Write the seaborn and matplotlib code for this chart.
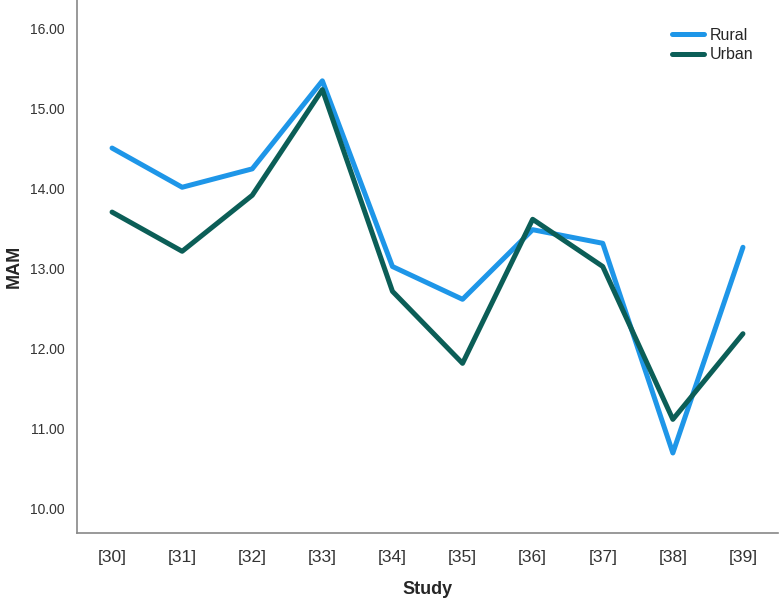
import matplotlib
matplotlib.use("Agg")
import matplotlib.pyplot as plt
import seaborn as sns
import pandas as pd

studies = ["[30]", "[31]", "[32]", "[33]", "[34]", "[35]", "[36]", "[37]", "[38]", "[39]"]
rural = [14.51, 14.02, 14.25, 15.35, 13.03, 12.62, 13.49, 13.32, 10.70, 13.27]
urban = [13.71, 13.22, 13.92, 15.24, 12.72, 11.82, 13.62, 13.03, 11.12, 12.19]

df = pd.DataFrame({
    "Study": studies * 2,
    "MAM": rural + urban,
    "Group": ["Rural"] * len(studies) + ["Urban"] * len(studies),
})

sns.set_style("white")
plt.rcParams["font.family"] = ["Liberation Sans", "DejaVu Sans"]

fig = plt.figure(figsize=(7.79, 6.06), dpi=100)
ax = fig.add_axes([77 / 779, 73 / 606, 701 / 779, 533 / 606])
sns.lineplot(data=df, x="Study", y="MAM", hue="Group", sort=False,
             palette={"Rural": "#1e96e8", "Urban": "#0b5e57"},
             linewidth=3.6, ax=ax)

ax.set_xlim(-0.5, 9.5)
ax.set_ylim(9.7, 16.36)
ax.set_yticks([10, 11, 12, 13, 14, 15, 16])
ax.set_yticklabels([f"{v:.2f}" for v in [10, 11, 12, 13, 14, 15, 16]], fontsize=10, color="#333333")
ax.tick_params(axis="x", labelsize=12.5, colors="#333333", pad=12)
ax.tick_params(axis="y", pad=9)
ax.tick_params(length=0)
for s in ["top", "right"]:
    ax.spines[s].set_visible(False)
for s in ["left", "bottom"]:
    ax.spines[s].set_color("#888888")
    ax.spines[s].set_linewidth(1.2)

ax.set_xlabel("Study", fontsize=13, fontweight="bold", labelpad=12)
ax.set_ylabel("MAM", fontsize=13, fontweight="bold")
ax.yaxis.set_label_coords(-0.078, 0.5)

leg = ax.legend(loc="upper right", bbox_to_anchor=(0.985, 0.975), frameon=False,
                fontsize=11.5, handlelength=2.0, handletextpad=0.35, labelspacing=0.3)

fig.savefig("out.png", dpi=100)
